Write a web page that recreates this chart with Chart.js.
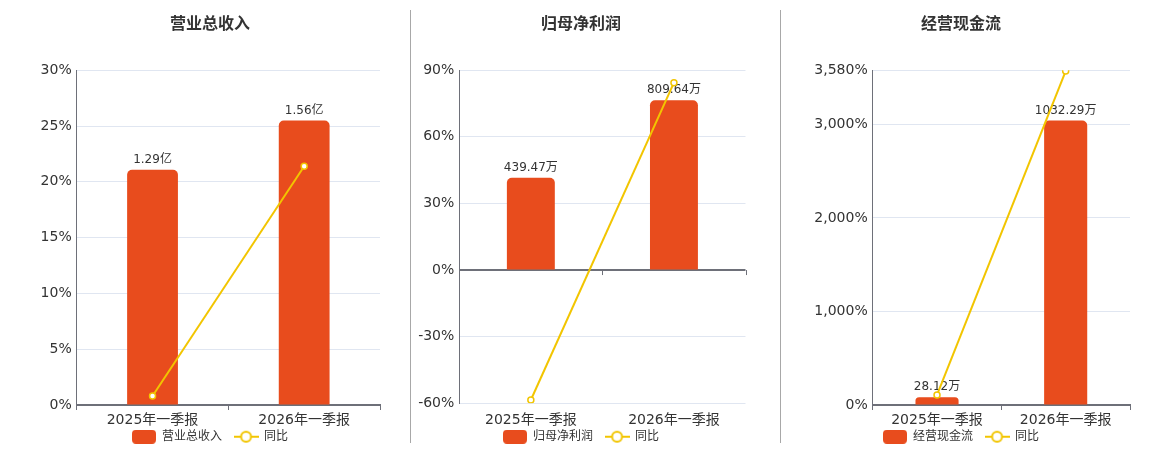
<!DOCTYPE html>
<html>
<head>
<meta charset="utf-8">
<script src="https://cdn.jsdelivr.net/npm/chart.js@4.4.1/dist/chart.umd.min.js"></script>
<style>
html, body { margin: 0; padding: 0; background: #fff; width: 1160px; height: 450px; overflow: hidden; position: relative; }
.box { position: absolute; top: 0; height: 450px; overflow: hidden; }
.box canvas { display: block; }
.sep { position: absolute; top: 10px; width: 1px; height: 433px; background: #a8a8a8; }
</style>
</head>
<body>
<div class="box" style="left:0"><canvas id="c1" width="420" height="464"></canvas></div>
<div class="sep" style="left:410px"></div>
<div class="box" style="left:411px"><canvas id="c2" width="340" height="464"></canvas></div>
<div class="sep" style="left:780px"></div>
<div class="box" style="left:781px"><canvas id="c3" width="360" height="464"></canvas></div>
<script>
// 数据
const periods = ['2025年一季报', '2026年一季报'];

const revenue = [1.29, 1.56];          // 亿
const revenueYoy = [0.8, 21.4];        // %
const profit = [439.47, 809.64];       // 万
const profitYoy = [-58.5, 84.4];
const cashflow = [28.12, 1032.29];     // 万
const cashflowYoy = [107, 3571];

const ticksRevenue = [0, 5, 10, 15, 20, 25, 30];
const ticksProfit = [-60, -30, 0, 30, 60, 90];
const ticksCashflow = [0, 1000, 2000, 3000, 3580];

// 样式
const cores = {
    barra: '#e84c1d',
    linha: '#f2c500',
    eixo: '#6e7079',
    grade: '#e0e6f1',
    texto: '#333'
};

Chart.defaults.font.family = '"DejaVu Sans", "Noto Sans CJK SC", sans-serif';
Chart.defaults.color = cores.texto;

// legend icons
function iconeBarra() {
    const c = document.createElement('canvas');
    c.width = 24; c.height = 14;
    const g = c.getContext('2d');
    g.fillStyle = cores.barra;
    g.beginPath();
    g.roundRect(0, 0, 24, 14, 4);
    g.fill();
    return c;
}
function iconeLinha() {
    const c = document.createElement('canvas');
    c.width = 25; c.height = 14;
    const g = c.getContext('2d');
    g.strokeStyle = cores.linha;
    g.lineWidth = 2;
    g.beginPath(); g.moveTo(0, 7); g.lineTo(25, 7); g.stroke();
    g.fillStyle = '#fff';
    g.beginPath(); g.arc(12.5, 7, 5, 0, Math.PI * 2); g.fill(); g.stroke();
    return c;
}
const icones = { barra: iconeBarra(), linha: iconeLinha() };

// labels above bars (drawn before the line)
const rotulos = {
    id: 'rotulos',
    afterDatasetDraw(chart, args, opts) {
        if (args.meta.type !== 'bar') return;
        const ctx = chart.ctx;
        ctx.save();
        ctx.font = '12px "DejaVu Sans", "Noto Sans CJK SC", sans-serif';
        ctx.fillStyle = cores.texto;
        ctx.textAlign = 'center';
        ctx.textBaseline = 'bottom';
        args.meta.data.forEach((el, i) => {
            const v = chart.data.datasets[args.index].data[i];
            ctx.fillText(v + opts.unidade, el.x, el.y - 4);
        });
        ctx.restore();
    }
};

// short ticks on the zero axis line
const marcasZero = {
    id: 'marcasZero',
    beforeDatasetsDraw(chart, args, opts) {
        if (!opts.ativo) return;
        const x = chart.scales.x, y = chart.scales.y;
        const y0 = y.getPixelForValue(0);
        const ctx = chart.ctx;
        const n = chart.data.labels.length;
        const xs = [];
        for (let i = 0; i < n - 1; i++) {
            xs.push((x.getPixelForValue(i) + x.getPixelForValue(i + 1)) / 2);
        }
        xs.push(chart.chartArea.right);
        ctx.save();
        ctx.strokeStyle = cores.eixo;
        ctx.lineWidth = 1;
        xs.forEach(px => {
            ctx.beginPath();
            ctx.moveTo(Math.round(px) + 0.5, y0);
            ctx.lineTo(Math.round(px) + 0.5, y0 + 5);
            ctx.stroke();
        });
        ctx.restore();
    }
};

// pull the legend up, closer to the axis labels
const subirLegenda = {
    id: 'subirLegenda',
    afterLayout(chart, args, opts) {
        const l = chart.legend;
        if (!l) return;
        l.top -= opts.d;
        l.bottom -= opts.d;
    }
};

function criarGrafico(canvasId, cfg) {
    const temNegativo = cfg.ticks[0] < 0;
    const topo = cfg.ticks[cfg.ticks.length - 1];
    const barMax = Math.max(...cfg.barras) / 0.85;
    const barMin = temNegativo ? barMax * cfg.ticks[0] / topo : 0;

    return new Chart(document.getElementById(canvasId), {
        type: 'bar',
        data: {
            labels: periods,
            datasets: [{
                type: 'line',
                label: '同比',
                data: cfg.yoy,
                yAxisID: 'y',
                order: 0,
                borderColor: cores.linha,
                borderWidth: 2,
                tension: 0,
                pointRadius: 3,
                pointBorderWidth: 1.5,
                pointBackgroundColor: '#fff',
                pointBorderColor: cores.linha
            }, {
                type: 'bar',
                label: cfg.nome,
                data: cfg.barras,
                yAxisID: 'yBar',
                order: 1,
                backgroundColor: cores.barra,
                borderRadius: { topLeft: 5, topRight: 5 },
                borderSkipped: 'start',
                barPercentage: 0.335,
                categoryPercentage: 1
            }]
        },
        options: {
            responsive: false,
            animation: false,
            events: [],
            layout: { padding: 0 },
            plugins: {
                title: {
                    display: true,
                    text: cfg.titulo,
                    color: cores.texto,
                    font: { size: 16, weight: 'bold' },
                    padding: { top: 15, bottom: 36 }
                },
                legend: {
                    position: 'bottom',
                    labels: {
                        usePointStyle: true,
                        pointStyleWidth: 24,
                        padding: 12,
                        color: cores.texto,
                        font: { size: 12 },
                        generateLabels: () => [
                            { text: cfg.nome, pointStyle: icones.barra, fillStyle: cores.barra, strokeStyle: cores.barra, lineWidth: 0, hidden: false, datasetIndex: 1, fontColor: cores.texto },
                            { text: '同比', pointStyle: icones.linha, fillStyle: '#fff', strokeStyle: cores.linha, lineWidth: 0, hidden: false, datasetIndex: 0, fontColor: cores.texto }
                        ]
                    }
                },
                tooltip: { enabled: false },
                rotulos: { unidade: cfg.unidade },
                marcasZero: { ativo: temNegativo },
                subirLegenda: { d: 11.3 }
            },
            scales: {
                x: {
                    offset: true,
                    grid: {
                        display: true,
                        offset: true,
                        drawOnChartArea: false,
                        drawTicks: !temNegativo,
                        tickLength: 5,
                        color: cores.eixo
                    },
                    border: { display: !temNegativo, color: cores.eixo, width: 2 },
                    ticks: { padding: cfg.padX, color: cores.texto, font: { size: 14 }, maxRotation: 0, autoSkip: false },
                    afterFit: s => { s.height = cfg.alturaX; }
                },
                y: {
                    min: cfg.ticks[0],
                    max: topo,
                    afterBuildTicks: s => { s.ticks = cfg.ticks.map(v => ({ value: v })); },
                    grid: {
                        drawTicks: false,
                        color: c => (temNegativo && c.tick && c.tick.value === 0) ? cores.eixo : cores.grade,
                        lineWidth: c => (temNegativo && c.tick && c.tick.value === 0) ? 2 : 1
                    },
                    border: { display: true, color: cores.eixo, width: 1 },
                    ticks: {
                        padding: 5,
                        color: cores.texto,
                        font: { size: 14 },
                        callback: v => v.toLocaleString('en-US') + '%'
                    },
                    afterFit: s => { s.width = cfg.larguraY; }
                },
                // invisible right axis for the bars; its width sets the right margin
                yBar: {
                    position: 'right',
                    display: true,
                    min: barMin,
                    max: barMax,
                    grid: { drawOnChartArea: false, drawTicks: false },
                    border: { display: false },
                    ticks: { display: false },
                    afterFit: s => { s.width = cfg.direita; }
                }
            }
        },
        plugins: [rotulos, marcasZero, subirLegenda]
    });
}

criarGrafico('c1', {
    titulo: '营业总收入', nome: '营业总收入', unidade: '亿',
    barras: revenue, yoy: revenueYoy, ticks: ticksRevenue,
    larguraY: 76.7, direita: 40, alturaX: 25, padX: 2
});
criarGrafico('c2', {
    titulo: '归母净利润', nome: '归母净利润', unidade: '万',
    barras: profit, yoy: profitYoy, ticks: ticksProfit,
    larguraY: 48.3, direita: 1, alturaX: 26.7, padX: 9
});
criarGrafico('c3', {
    titulo: '经营现金流', nome: '经营现金流', unidade: '万',
    barras: cashflow, yoy: cashflowYoy, ticks: ticksCashflow,
    larguraY: 91.7, direita: 11, alturaX: 25, padX: 2
});
</script>
</body>
</html>
